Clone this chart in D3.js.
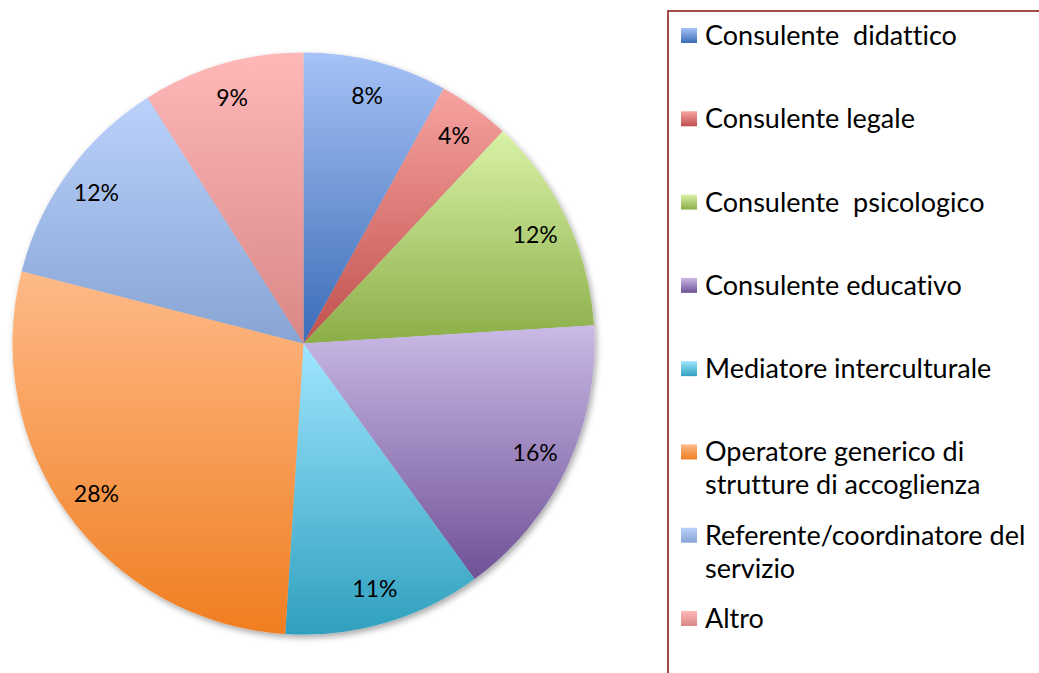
<!DOCTYPE html>
<html>
<head>
<meta charset="utf-8">
<script src="https://cdn.jsdelivr.net/npm/d3@7"></script>
<style>
  html, body { margin: 0; padding: 0; background: #ffffff; }
  svg { display: block; }
  text { font-family: "Lato", "Open Sans", sans-serif; fill: #000; white-space: pre; font-variant-ligatures: none; font-feature-settings: "liga" 0, "clig" 0; }
</style>
</head>
<body>
<svg id="chart" width="1039" height="673"></svg>
<script>
// ---- data ----
const categories = [
  "Consulente  didattico",
  "Consulente legale",
  "Consulente  psicologico",
  "Consulente educativo",
  "Mediatore interculturale",
  "Operatore generico di\nstrutture di accoglienza",
  "Referente/coordinatore del\nservizio",
  "Altro"
];
const values = [8, 4, 12, 16, 11, 28, 12, 9];
const labels = ["8%", "4%", "12%", "16%", "11%", "28%", "12%", "9%"];
const colorsLight = ["#a6c2f6", "#f7a3a0", "#d8f2a6", "#cabae6", "#a0e6ff", "#feba88", "#bad1fb", "#ffb8b8"];
const colorsDark  = ["#3b6cb7", "#c0504d", "#8bae48", "#6f5196", "#2fa0be", "#f07e20", "#87a4d4", "#d98786"];

// ---- layout ----
const svg = d3.select("#chart");
const cx = 303.5, cy = 343.5, R = 291, labelR = 256;

const defs = svg.append("defs");
values.forEach((v, i) => {
  const g = defs.append("linearGradient")
    .attr("id", "grad" + i)
    .attr("x1", 0).attr("y1", 0).attr("x2", 0).attr("y2", 1);
  g.append("stop").attr("offset", "0%").attr("stop-color", colorsLight[i]);
  g.append("stop").attr("offset", "100%").attr("stop-color", colorsDark[i]);
});
const f = defs.append("filter").attr("id", "shadow")
  .attr("x", "-10%").attr("y", "-10%").attr("width", "120%").attr("height", "120%");
f.append("feDropShadow").attr("dx", 2).attr("dy", 3).attr("stdDeviation", 3)
  .attr("flood-color", "#000").attr("flood-opacity", 0.35);

const pie = d3.pie().sort(null).value(d => d);
const arcs = pie(values);
const arc = d3.arc().innerRadius(0).outerRadius(R);
const labelArc = d3.arc().innerRadius(labelR).outerRadius(labelR);

const g = svg.append("g").attr("transform", `translate(${cx},${cy})`);
const slices = g.append("g").attr("filter", "url(#shadow)");
slices.selectAll("path").data(arcs).enter().append("path")
  .attr("d", arc)
  .attr("fill", (d, i) => `url(#grad${i})`);

g.selectAll("text.lbl").data(arcs).enter().append("text")
  .attr("class", "lbl")
  .attr("transform", d => `translate(${labelArc.centroid(d)})`)
  .attr("text-anchor", "middle")
  .attr("dy", "0.35em")
  .style("font-size", "23px")
  .text((d, i) => labels[i]);

// ---- legend ----
const legend = svg.append("g");
legend.append("rect")
  .attr("x", 668).attr("y", 11).attr("width", 400).attr("height", 700)
  .attr("fill", "none").attr("stroke", "#a24a4a").attr("stroke-width", 2);

const rowY = d3.scalePoint().domain(d3.range(categories.length)).range([45, 628]);
categories.forEach((c, i) => {
  const y = rowY(i);
  legend.append("rect")
    .attr("x", 681).attr("y", y - 17).attr("width", 16).attr("height", 15)
    .attr("fill", `url(#grad${i})`);
  const t = legend.append("text").attr("x", 705).attr("y", y).style("font-size", "27px");
  c.split("\n").forEach((line, k) => {
    t.append("tspan").attr("x", 705).attr("y", y + k * 33).text(line);
  });
});
</script>
</body>
</html>
